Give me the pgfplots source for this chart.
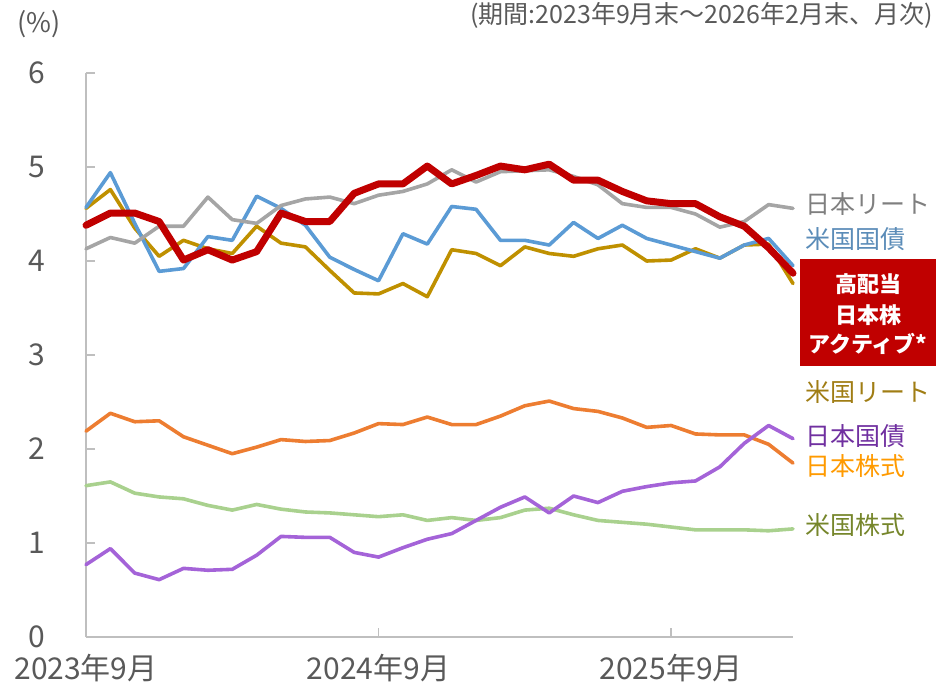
\documentclass[border=0pt]{standalone}
\usepackage{fontspec}
\setmainfont{Noto Sans CJK JP}
\usepackage{pgfplots}
\usepackage{pgfplotstable}
\pgfplotsset{compat=1.18}

\definecolor{axgray}{HTML}{BFBFBF}
\definecolor{txtgray}{HTML}{595959}
\definecolor{cgray}{HTML}{A5A5A5}
\definecolor{cblue}{HTML}{5B9BD5}
\definecolor{cred}{HTML}{C00000}
\definecolor{cgold}{HTML}{BF9000}
\definecolor{corange}{HTML}{ED7D31}
\definecolor{cgreen}{HTML}{A9D18E}
\definecolor{cpurple}{HTML}{A463D8}
\definecolor{lgray}{HTML}{7F7F7F}
\definecolor{lblue}{HTML}{5B8CB8}
\definecolor{lgold}{HTML}{A07D14}
\definecolor{lpurple}{HTML}{7030A0}
\definecolor{lorange}{HTML}{FF9A00}
\definecolor{lgreen}{HTML}{76862B}

\pgfplotstableread{
i red gray blue gold orange green purple
0 4.38 4.13 4.57 4.56 2.19 1.61 0.77
1 4.51 4.25 4.94 4.76 2.38 1.65 0.94
2 4.51 4.19 4.40 4.35 2.29 1.53 0.68
3 4.42 4.37 3.89 4.05 2.30 1.49 0.61
4 4.01 4.37 3.92 4.22 2.13 1.47 0.73
5 4.12 4.68 4.26 4.13 2.04 1.40 0.71
6 4.01 4.44 4.22 4.08 1.95 1.35 0.72
7 4.10 4.40 4.69 4.37 2.02 1.41 0.87
8 4.51 4.59 4.56 4.19 2.10 1.36 1.07
9 4.42 4.66 4.38 4.15 2.08 1.33 1.06
10 4.42 4.68 4.04 3.90 2.09 1.32 1.06
11 4.72 4.61 3.91 3.66 2.17 1.30 0.90
12 4.82 4.70 3.79 3.65 2.27 1.28 0.85
13 4.82 4.74 4.29 3.76 2.26 1.30 0.95
14 5.01 4.82 4.18 3.62 2.34 1.24 1.04
15 4.82 4.97 4.58 4.12 2.26 1.27 1.10
16 4.91 4.84 4.55 4.08 2.26 1.24 1.24
17 5.01 4.95 4.22 3.95 2.35 1.27 1.38
18 4.97 4.96 4.22 4.15 2.46 1.35 1.49
19 5.03 4.97 4.17 4.08 2.51 1.37 1.32
20 4.86 4.90 4.41 4.05 2.43 1.30 1.50
21 4.86 4.81 4.24 4.13 2.40 1.24 1.43
22 4.74 4.61 4.38 4.17 2.33 1.22 1.55
23 4.64 4.57 4.24 4.00 2.23 1.20 1.60
24 4.61 4.57 4.17 4.01 2.25 1.17 1.64
25 4.61 4.50 4.10 4.13 2.16 1.14 1.66
26 4.47 4.36 4.03 4.03 2.15 1.14 1.81
27 4.37 4.42 4.17 4.17 2.15 1.14 2.06
28 4.14 4.60 4.24 4.18 2.05 1.13 2.25
29 3.87 4.56 3.95 3.76 1.85 1.15 2.11
}\datatable

\begin{document}
\begin{tikzpicture}
\useasboundingbox (-86bp,-47bp) rectangle (850bp,637bp);
\begin{axis}[
  anchor=south west,
  at={(0,0)},
  scale only axis,
  width=707bp, height=564bp,
  xmin=0, xmax=29, ymin=0, ymax=6,
  axis x line=bottom, axis y line=left,
  axis line style={-, draw=axgray, line width=1.6bp},
  xtick={0,12,24},
  xticklabels={2023年9月,2024年9月,2025年9月},
  ytick={0,1,2,3,4,5,6},
  tick align=inside,
  major tick length=9bp,
  tick style={draw=axgray, line width=1.3bp},
  /pgf/number format/assume math mode=true,
  xticklabel style={font=\fontsize{30bp}{34bp}\selectfont, text=txtgray, anchor=center, yshift=-31bp, inner sep=0pt},
  yticklabel style={font=\fontsize{30bp}{34bp}\selectfont, text=txtgray, anchor=center, xshift=-49bp, inner sep=0pt},
  every axis plot/.append style={line join=round, line cap=round},
  clip=false,
]
\addplot[cgreen, line width=3.6bp] table[x=i, y=green] {\datatable};
\addplot[corange, line width=3.6bp] table[x=i, y=orange] {\datatable};
\addplot[cpurple, line width=3.6bp] table[x=i, y=purple] {\datatable};
\addplot[cgold, line width=3.6bp] table[x=i, y=gold] {\datatable};
\addplot[cblue, line width=3.6bp] table[x=i, y=blue] {\datatable};
\addplot[cgray, line width=3.6bp] table[x=i, y=gray] {\datatable};
\addplot[cred, line width=7bp] table[x=i, y=red] {\datatable};
\end{axis}

% top texts
\node[anchor=center, text=txtgray, font=\fontsize{27bp}{30bp}\selectfont, inner sep=0pt] at (-47bp,613bp) {(\%)};
\node[anchor=base east, text=txtgray, font=\fontsize{25bp}{28bp}\selectfont, inner sep=0pt] at (847bp,613bp) {(期間:2023年9月末～2026年2月末、月次)};

% right labels
\begin{scope}[every node/.style={anchor=west, inner sep=0pt, font=\fontsize{25bp}{28bp}\selectfont}]
\node[text=lgray] at (719bp,433bp) {日本リート};
\node[text=lblue] at (719bp,398bp) {米国国債};
\node[text=lgold] at (719bp,245bp) {米国リート};
\node[text=lpurple] at (719bp,201bp) {日本国債};
\node[text=lorange] at (719bp,171bp) {日本株式};
\node[text=lgreen] at (719bp,112bp) {米国株式};
\end{scope}

\fill[cred] (714bp,271bp) rectangle (850bp,378bp);
\begin{scope}[every node/.style={anchor=center, inner sep=0pt, text=white, font=\fontsize{22bp}{26bp}\selectfont\bfseries}]
\node at (782bp,353bp) {高配当};
\node at (782bp,322bp) {日本株};
\node at (782bp,293bp) {アクティブ*};
\end{scope}
\end{tikzpicture}
\end{document}
